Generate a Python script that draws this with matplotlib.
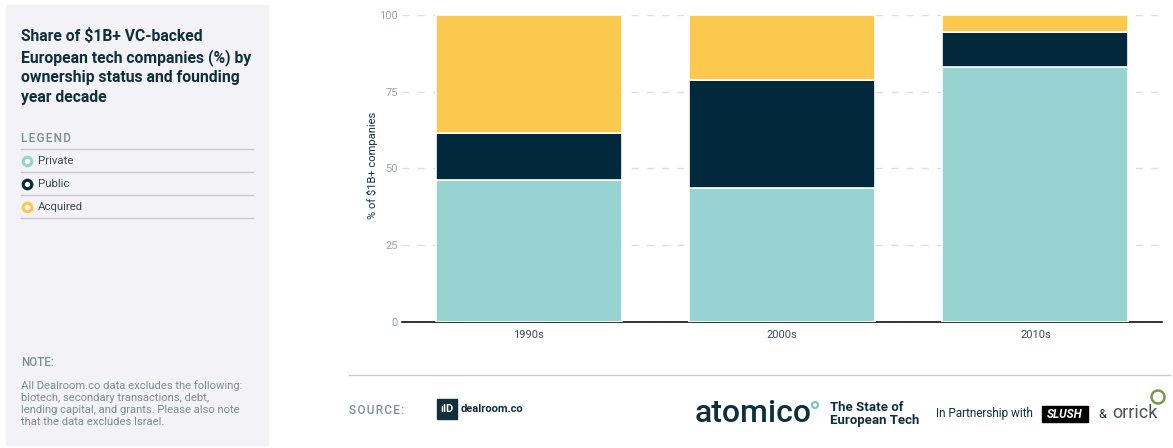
import numpy as np
import matplotlib.pyplot as plt
from matplotlib.patches import Rectangle, Circle

plt.rcParams['font.family'] = ['Roboto', 'DejaVu Sans']

# data
decades = ['1990s', '2000s', '2010s']
series_names = ['Private', 'Public', 'Acquired']
private = [46.2, 43.5, 83.1]
public = [15.4, 35.3, 11.2]
acquired = [38.4, 21.2, 5.7]
y_ticks = [0, 25, 50, 75, 100]

colors = ['#96d3d1', '#02283b', '#fbc94d']
dark = '#0f2f3b'
grey_txt = '#7d8d8f'
hs = '\u200a'  # hair space for letter spacing

fig = plt.figure(figsize=(11.73, 4.48), dpi=100)
fig.patch.set_facecolor('white')

# ---- main chart ----
ax = fig.add_axes([402 / 1173, 1 - 322 / 448, (1162 - 402) / 1173, (322 - 15) / 448])
x = np.arange(len(decades))
bottom = np.zeros(len(decades))
for name, vals, c in zip(series_names, [private, public, acquired], colors):
    ax.bar(x, vals, bottom=bottom, width=0.735, color=c, edgecolor='white',
           linewidth=1.2, label=name, zorder=3)
    bottom += np.array(vals)

ax.set_xlim(-0.5, 2.5)
ax.set_ylim(0, 100)
ax.set_yticks(y_ticks)
ax.set_yticklabels([str(t) for t in y_ticks], color='#9aa6a8', fontsize=8)
ax.set_xticks(x)
ax.set_xticklabels(decades, color='#3d4b50', fontsize=8)
ax.tick_params(axis='y', length=0, pad=3)
ax.tick_params(axis='x', length=0, pad=6)
ax.yaxis.grid(True, color='#dddddd', linestyle=(0, (5, 6)), linewidth=1, zorder=0)
for s in ['top', 'right', 'left']:
    ax.spines[s].set_visible(False)
ax.spines['bottom'].set_color('#111111')
ax.spines['bottom'].set_linewidth(1.2)
ax.set_ylabel('% of $1B+ companies', fontsize=8, color=dark)
ax.yaxis.set_label_coords(-0.032, 0.51)

# ---- left panel ----
pan = fig.add_axes([0, 0, 270 / 1173, 1])
pan.set_xlim(0, 270)
pan.set_ylim(448, 0)
pan.axis('off')
pan.add_patch(Rectangle((6, 5), 262, 440, color='#f3f2f7', zorder=0))

title = 'Share of $1B+ VC-backed\nEuropean tech companies (%) by\nownership status and founding\nyear decade'
pan.text(21, 28, title, fontsize=11.3, fontweight='bold', color=dark,
         va='top', ha='left', linespacing=1.37)
pan.text(21, 138, hs.join('LEGEND'), fontsize=8.5, fontweight='medium', color=grey_txt,
         va='center', ha='left')
for yy in [149, 172, 195, 218]:
    pan.plot([21, 253], [yy, yy], color='#c8c8cc', lw=1)
for i, (name, c) in enumerate(zip(series_names, colors)):
    yy = 161 + 23 * i
    pan.scatter([27], [yy], s=55, color=c, zorder=3)
    pan.scatter([27], [yy], s=8, color='white', zorder=4)
    pan.text(38, yy, name, fontsize=8.2, color='#3d4b50', va='center', ha='left')

pan.text(21, 362, 'NOTE:', fontsize=8.3, fontweight='medium', color=grey_txt, va='center', ha='left')
note = ('All Dealroom.co data excludes the following:\nbiotech, secondary transactions, debt,\n'
        'lending capital, and grants. Please also note\nthat the data excludes Israel.')
pan.text(21, 380, note, fontsize=8.1, color=grey_txt, va='top', ha='left', linespacing=1.27)

# ---- footer ----
foot = fig.add_axes([0, 0, 1, 1], zorder=-1)
foot.set_xlim(0, 1173)
foot.set_ylim(448, 0)
foot.axis('off')
foot.plot([349, 1170], [375, 375], color='#cccccc', lw=1)
foot.text(349, 411, hs.join('SOURCE:'), fontsize=8.5, fontweight='medium', color=grey_txt,
          va='center', ha='left')
foot.add_patch(Rectangle((437, 399), 20, 20, color='#0f2f3b'))
foot.text(447, 409.5, 'ılD', fontsize=8, color='white', fontweight='bold', va='center', ha='center')
foot.text(461, 409, 'dealroom.co', fontsize=8, color=dark, fontweight='bold', va='center', ha='left')
foot.text(695, 413, 'atomico', fontsize=23, color='#0f2f3b', fontweight='medium',
          va='center', ha='left')
foot.add_patch(Circle((815, 405), 3, fill=False, ec='#7cc9c3', lw=1.6))
foot.text(830, 414, 'The State of\nEuropean Tech', fontsize=9.5, color=dark, fontweight='bold',
          va='center', ha='left', linespacing=0.95)
foot.text(936, 414, 'In Partnership with', fontsize=8.5, color=dark, va='center', ha='left')
foot.add_patch(Rectangle((1042, 406), 46, 16, color='black'))
foot.text(1065, 414, 'SLUSH', fontsize=8.5, color='white', fontweight='bold', style='italic',
          va='center', ha='center')
foot.text(1098, 414, '&', fontsize=9, color=dark, va='center', ha='left')
foot.text(1112, 413, 'orrick', fontsize=13, color='#4a5558', va='center', ha='left')
foot.add_patch(Circle((1158, 397), 6.5, fill=False, ec='#7a9a4a', lw=1.8))

fig.savefig('out.png', dpi=100)
